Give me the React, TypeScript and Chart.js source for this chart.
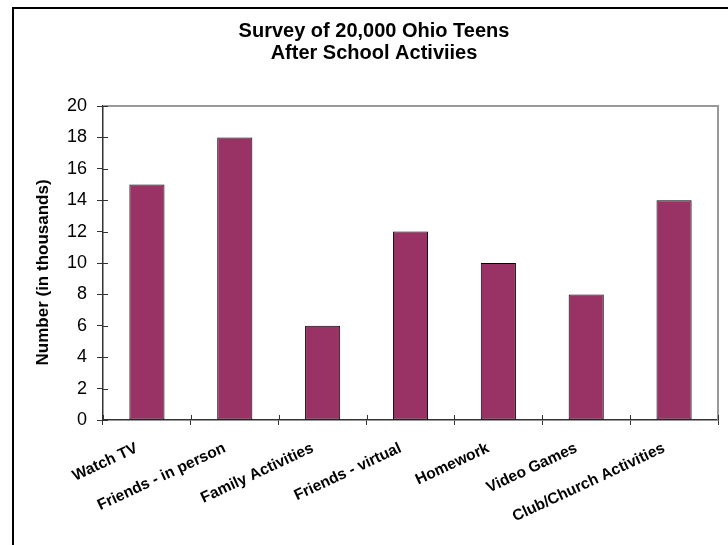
import React, { useEffect, useRef } from "react";
import { Chart, registerables } from "chart.js";

Chart.register(...registerables);

const categories = [
  "Watch TV",
  "Friends - in person",
  "Family Activities",
  "Friends - virtual",
  "Homework",
  "Video Games",
  "Club/Church Activities",
];
const counts = [15, 18, 6, 12, 10, 8, 14];
const titleLines = ["Survey of 20,000 Ohio Teens", "After School Activiies"];
const yAxisTitle = "Number (in thousands)";

const FONT = "'Liberation Sans', Arial, Helvetica, sans-serif";

// Outer frame, light plot border on top/right, and the inner half of each axis tick
const decorPlugin = {
  id: "decor",
  beforeDraw(chart: any) {
    const { ctx } = chart;
    ctx.save();
    ctx.fillStyle = "#ffffff";
    ctx.fillRect(0, 0, chart.width, chart.height);
    ctx.strokeStyle = "#000000";
    ctx.lineWidth = 2;
    ctx.beginPath();
    ctx.moveTo(13, chart.height + 5);
    ctx.lineTo(13, 8);
    ctx.lineTo(chart.width + 5, 8);
    ctx.stroke();
    ctx.restore();
  },
  afterDraw(chart: any) {
    const { ctx, chartArea } = chart;
    const x = chart.scales.x;
    const y = chart.scales.y;
    ctx.save();
    ctx.strokeStyle = "#999999";
    ctx.lineWidth = 2;
    ctx.beginPath();
    ctx.moveTo(chartArea.left, chartArea.top);
    ctx.lineTo(chartArea.right, chartArea.top);
    ctx.lineTo(chartArea.right, chartArea.bottom);
    ctx.stroke();

    ctx.strokeStyle = "#333333";
    ctx.lineWidth = 1;
    ctx.beginPath();
    for (let i = 0; i < y.ticks.length; i++) {
      const py = Math.round(y.getPixelForTick(i)) + 0.5;
      ctx.moveTo(chartArea.left, py);
      ctx.lineTo(chartArea.left + 5, py);
    }
    for (let i = 0; i <= categories.length; i++) {
      const px = Math.round(x.getPixelForValue(i - 0.5)) + 0.5;
      ctx.moveTo(px, chartArea.bottom);
      ctx.lineTo(px, chartArea.bottom - 5);
    }
    ctx.stroke();
    ctx.restore();
  },
};

export default function App() {
  const canvasRef = useRef<HTMLCanvasElement | null>(null);

  useEffect(() => {
    document.body.style.margin = "0";
    const canvas = canvasRef.current;
    if (!canvas) return;
    const chart = new Chart(canvas, {
      type: "bar",
      data: {
        labels: categories,
        datasets: [
          {
            data: counts,
            backgroundColor: "#993366",
            borderColor: "#000000",
            borderWidth: 1,
            borderSkipped: false,
            barPercentage: 0.4,
            categoryPercentage: 1,
          },
        ],
      },
      options: {
        responsive: false,
        animation: false,
        devicePixelRatio: 1,
        layout: { padding: { left: 30, right: 10, top: 0, bottom: 0 } },
        plugins: {
          legend: { display: false },
          tooltip: { enabled: false },
          title: {
            display: true,
            text: titleLines,
            color: "#000000",
            font: { family: FONT, size: 20, weight: "bold", lineHeight: 1.1 },
            padding: { top: 20, bottom: 42 },
          },
        },
        scales: {
          x: {
            offset: true,
            grid: {
              display: true,
              offset: true,
              drawOnChartArea: false,
              drawTicks: true,
              tickLength: 5,
              color: "#333333",
            },
            border: { display: true, color: "#333333", width: 1.5 },
            ticks: {
              autoSkip: false,
              minRotation: 25,
              maxRotation: 25,
              padding: 14,
              labelOffset: -10,
              color: "#000000",
              font: { family: FONT, size: 15.5, weight: "bold" },
            },
            afterFit(scale: any) {
              scale.height = 125;
            },
          },
          y: {
            min: 0,
            max: 20,
            ticks: {
              stepSize: 2,
              padding: 10,
              color: "#000000",
              font: { family: FONT, size: 18 },
            },
            grid: {
              display: true,
              drawOnChartArea: false,
              drawTicks: true,
              tickLength: 6,
              color: "#333333",
            },
            border: { display: true, color: "#333333", width: 1.5 },
            title: {
              display: true,
              // trailing spaces nudge the centred title slightly toward the axis origin
              text: yAxisTitle + "    ",
              color: "#000000",
              font: { family: FONT, size: 17, weight: "bold", lineHeight: 1.2 },
              padding: { top: 3, bottom: 0 },
            },
            afterFit(scale: any) {
              scale.width = 73;
            },
          },
        },
      },
      plugins: [decorPlugin],
    });
    return () => chart.destroy();
  }, []);

  return (
    <div style={{ position: "fixed", left: 0, top: 0, width: 728, height: 545 }}>
      <canvas ref={canvasRef} width={728} height={545} />
    </div>
  );
}
